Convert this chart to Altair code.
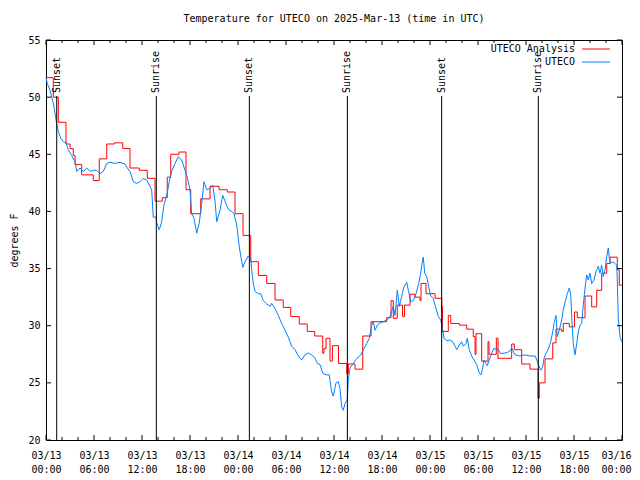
import json
import altair as alt
import pandas as pd

# ---------------- data (hours since 2025-03-13 00:00 UTC) ----------------
red_h = [0.0, 0.91, 1.54, 2.5, 3.0, 3.41, 3.63, 4.46, 5.91, 6.66, 7.59, 8.54, 9.59, 10.5,
         11.66, 12.66, 13.63, 14.54, 15.16, 15.59, 16.63, 17.5, 18.09, 19.34, 20.5, 21.63,
         22.66, 23.63, 24.63, 25.59, 26.54, 27.59, 28.63, 29.66, 30.59, 31.66, 32.66, 33.59,
         34.59, 34.75, 35.0, 35.5, 35.8, 36.56, 37.59, 37.79, 38.63, 39.59, 40.63, 42.59,
         43.13, 43.41, 43.91, 44.56, 44.81, 45.5, 46.13, 46.75, 46.88, 47.5, 48.63, 49.46,
         49.55, 50.29, 50.59, 51.66, 52.59, 53.41, 53.63, 53.75, 54.46, 55.25, 55.38, 56.29,
         56.5, 58.21, 58.54, 59.46, 60.5, 61.5, 61.66, 62.38, 63.34, 63.75, 64.46, 64.66,
         65.41, 66.06, 66.41, 67.38, 68.21, 68.84, 69.46, 70.09, 70.5, 71.41, 71.66, 72.0]
red_t = [51.7, 50.0, 47.8, 45.9, 45.5, 44.9, 44.1, 43.2, 42.7, 44.6, 45.9, 46.0, 45.5, 43.8,
         43.6, 42.9, 40.9, 41.2, 43.0, 45.0, 45.2, 41.9, 39.8, 41.1, 42.2, 41.9,
         41.7, 39.8, 37.9, 35.6, 34.4, 33.7, 32.25, 31.6, 30.8, 30.15, 29.5, 29.1,
         27.6, 28.0, 28.9, 26.9, 28.25, 26.7, 25.8, 26.65, 26.2, 29.1, 30.35, 30.7,
         32.2, 30.65, 31.8, 30.8, 31.8, 32.75, 32.5, 32.2, 33.7, 32.8, 32.4, 31.7,
         29.5, 30.9, 30.2, 30.05, 29.7, 29.05, 27.5, 29.3, 26.9, 28.6, 27.5, 28.9,
         27.15, 28.4, 27.9, 26.65, 26.2, 23.65, 25.0, 27.1, 28.5, 29.7, 29.5, 30.2,
         29.9, 31.2, 30.7, 32.6, 31.65, 33.1, 34.6, 35.45, 36.0, 34.9, 33.55, 33.55]

blue_h = [0.0, 0.16, 0.5, 0.71, 0.91, 1.13, 1.34, 1.54, 1.84, 2.16, 2.5, 2.79, 3.21, 3.63,
          3.84, 4.25, 4.66, 5.09, 5.5, 5.91, 6.34, 6.75, 7.16, 7.59, 8.0, 8.63, 9.25, 9.88,
          10.16, 10.5, 10.91, 11.34, 11.75, 12.16, 12.59, 13.0, 13.21, 13.41, 13.75, 13.84,
          14.16, 14.46, 14.75, 15.09, 15.41, 15.71, 16.13, 16.54, 16.96, 17.38, 17.66, 18.0,
          18.21, 18.5, 18.84, 19.16, 19.46, 19.75, 20.09, 20.5, 20.84, 21.13, 21.34, 21.75,
          22.09, 22.38, 22.66, 22.91, 23.21, 23.5, 23.84, 24.16, 24.59, 24.88, 25.29, 25.59,
          25.71, 25.91, 26.13, 26.54, 26.84, 27.16, 27.59, 28.0, 28.21, 28.63, 29.04, 29.46,
          29.88, 30.29, 30.71, 31.13, 31.54, 31.96, 32.38, 32.79, 33.21, 33.63, 33.91, 34.25,
          34.59, 35.0, 35.41, 35.71, 35.91, 36.25, 36.54, 36.75, 36.96, 37.16, 37.38, 37.66,
          37.79, 38.0, 38.41, 38.84, 39.16, 39.46, 39.75, 40.09, 40.41, 40.71, 40.91, 41.13,
          41.41, 41.75, 42.16, 42.59, 43.0, 43.41, 43.63, 43.91, 44.16, 44.46, 44.75, 45.09,
          45.29, 45.59, 45.91, 46.25, 46.59, 46.84, 47.0, 47.16, 47.34, 47.59, 47.84, 48.09,
          48.41, 48.75, 49.04, 49.34, 49.59, 49.75, 50.09, 50.5, 50.84, 51.13, 51.34, 51.66,
          51.96, 52.16, 52.5, 52.66, 52.91, 53.21, 53.5, 53.84, 54.16, 54.38, 54.59, 54.75,
          55.0, 55.16, 55.41, 55.71, 56.0, 56.25, 56.54, 56.84, 57.25, 57.66, 58.0, 58.21,
          58.63, 59.25, 59.88, 60.5, 61.13, 61.34, 61.54, 61.84, 62.09, 62.25, 62.5, 62.79,
          63.09, 63.34, 63.5, 63.75, 63.91, 64.16, 64.46, 64.66, 64.91, 65.16, 65.41, 65.59,
          65.75, 65.91, 66.13, 66.34, 66.54, 66.75, 66.96, 67.16, 67.38, 67.59, 67.79, 68.0,
          68.21, 68.5, 68.75, 69.04, 69.25, 69.46, 69.66, 69.88, 70.09, 70.29, 70.41, 70.59,
          70.84, 71.13, 71.34, 71.41, 71.54, 71.75, 71.96]
blue_t = [51.7, 51.2, 50.6, 50.0, 49.5, 48.6, 47.6, 47.0, 46.4, 46.1, 46.0, 45.4, 44.9, 44.35,
          43.5, 43.8, 43.5, 43.8, 43.5, 43.6, 43.6, 43.3, 43.5, 44.2, 44.3, 44.2, 44.3, 44.15,
          43.8, 43.5, 42.6, 42.45, 42.6, 42.9, 42.75, 42.2, 41.9, 39.5, 39.5, 39.0,
          38.4, 39.1, 40.6, 41.4, 42.6, 43.5, 44.2, 44.8, 44.5, 43.6, 43.0, 41.9,
          39.8, 39.4, 38.1, 39.0, 40.7, 42.6, 41.9, 42.0, 42.3, 40.9, 39.1, 40.1,
          41.4, 40.9, 40.4, 40.1, 40.0, 39.8, 38.8, 36.9, 35.1, 35.6, 36.1, 35.9,
          34.9, 33.7, 33.0, 32.8, 32.8, 32.2, 31.9, 31.7, 31.95, 31.5, 30.9, 30.2,
          29.6, 29.0, 28.2, 27.9, 27.35, 27.0, 27.45, 27.6, 27.45, 27.15, 26.7, 26.6,
          25.85, 25.7, 25.7, 24.2, 23.85, 25.0, 25.1, 24.5, 22.9, 22.6, 23.2, 23.5,
          25.25, 26.3, 26.7, 27.15, 27.3, 27.6, 28.0, 28.45, 28.9, 30.05, 30.35, 29.6,
          30.05, 30.25, 30.35, 30.5, 30.8, 31.7, 30.9, 33.1, 31.7, 32.55, 33.4, 33.8,
          33.1, 32.1, 32.2, 32.8, 33.7, 34.6, 35.45, 36.0, 34.6, 34.3, 33.4, 32.6,
          32.4, 31.5, 30.8, 30.5, 29.6, 28.9, 28.7, 28.75, 28.6, 28.2, 27.9, 28.3,
          28.6, 28.2, 28.45, 28.9, 27.9, 27.35, 27.0, 26.6, 25.85, 25.7, 26.3, 27.0,
          26.7, 26.5, 27.0, 27.6, 28.05, 27.9, 27.9, 27.55, 27.6, 27.65, 27.8, 28.05,
          27.45, 27.35, 27.45, 27.35, 27.35, 27.0, 26.6, 26.1, 26.4, 27.15, 27.6, 27.95,
          28.6, 29.5, 30.2, 30.9, 29.05, 29.6, 30.5, 31.4, 32.1, 32.8, 33.3, 32.7,
          30.35, 28.45, 27.45, 28.45, 29.5, 30.05, 30.2, 31.8, 33.3, 34.45, 34.0, 34.6,
          33.7, 34.0, 34.75, 35.2, 34.6, 35.3, 34.3, 34.9, 36.05, 36.8, 35.9, 35.45,
          35.6, 35.45, 35.3, 34.0, 30.65, 29.05, 28.6]

sun_h = [1.34, 13.79, 25.42, 37.67, 49.46, 61.54]
sun_lbl = ["Sunset", "Sunrise", "Sunset", "Sunrise", "Sunset", "Sunrise"]

x_major_h = [0, 6, 12, 18, 24, 30, 36, 42, 48, 54, 60, 66, 72]
x_minor_h = [2, 4, 8, 10, 14, 16, 20, 22, 26, 28, 32, 34, 38, 40, 44, 46, 50, 52,
             56, 58, 62, 64, 68, 70]
x_tick_dates = ["03/13", "03/13", "03/13", "03/13", "03/14", "03/14", "03/14", "03/14",
                "03/15", "03/15", "03/15", "03/15", "03/16"]
x_tick_times = ["00:00", "06:00", "12:00", "18:00", "00:00", "06:00", "12:00", "18:00",
                "00:00", "06:00", "12:00", "18:00", "00:00"]
y_ticks = [20, 25, 30, 35, 40, 45, 50, 55]

series_names = ["UTECO Analysis", "UTECO"]
series_colors = ["#ff0000", "#0080ff"]
title_text = "Temperature for UTECO on 2025-Mar-13 (time in UTC)"

# ---------------- chart ----------------
FONT = "DejaVu Sans Mono"
W, H = 576, 400

red_df = pd.DataFrame({"h": red_h, "t": red_t})
blue_df = pd.DataFrame({"h": blue_h, "t": blue_t})
sun_df = pd.DataFrame({"h": sun_h, "lbl": sun_lbl})
maj_df = pd.DataFrame({"h": x_major_h})
min_df = pd.DataFrame({"h": x_minor_h})
yt_df = pd.DataFrame({"t": y_ticks})

xs = alt.Scale(domain=[0, 72], nice=False, zero=False)
ys = alt.Scale(domain=[20, 55], nice=False, zero=False)

pairs = [[d, t] for d, t in zip(x_tick_dates, x_tick_times)]
label_expr = json.dumps(pairs) + "[round(datum.value / 6)]"

x_axis = alt.Axis(values=x_major_h, labelExpr=label_expr, grid=False, domain=False,
                  ticks=False, labelPadding=10, labelFont=FONT, labelFontSize=10,
                  labelLineHeight=14, labelColor="black", labelFlush=False,
                  labelOverlap=False, labelBound=False, title="",
                  labelOffset={"condition": {"test": "datum.value == 72", "value": -6},
                               "value": 0})
y_axis = alt.Axis(values=y_ticks, grid=False, domain=False, ticks=False, labelPadding=6,
                  labelFont=FONT, labelFontSize=10, labelColor="black", labelFlush=False,
                  labelOverlap=False, title="degrees F", titleFont=FONT, titleFontSize=10,
                  titleFontWeight="normal", titleColor="black", titleX=-32, titleY=H / 2,
                  titleAngle=270, titleAlign="center", titleBaseline="middle")

X = alt.X("h:Q", scale=xs, axis=x_axis)
Y = alt.Y("t:Q", scale=ys, axis=y_axis)

red = alt.Chart(red_df).mark_line(interpolate="step-after", color=series_colors[0],
                                  strokeWidth=1).encode(x=X, y=Y)
blue = alt.Chart(blue_df).mark_line(color=series_colors[1], strokeWidth=1).encode(x=X, y=Y)

sun_rule = alt.Chart(sun_df).mark_rule(color="black", strokeWidth=1).encode(
    x=X, y=alt.value(56), y2=alt.value(H))
sun_text = alt.Chart(sun_df).mark_text(angle=270, align="left", baseline="middle",
                                       font=FONT, fontSize=10, color="black").encode(
    x=X, y=alt.value(53), text="lbl:N")

tick_layers = [
    alt.Chart(maj_df).mark_rule(color="black").encode(x=X, y=alt.value(H), y2=alt.value(H - 5)),
    alt.Chart(maj_df).mark_rule(color="black").encode(x=X, y=alt.value(0), y2=alt.value(5)),
    alt.Chart(min_df).mark_rule(color="black").encode(x=X, y=alt.value(H), y2=alt.value(H - 3)),
    alt.Chart(min_df).mark_rule(color="black").encode(x=X, y=alt.value(0), y2=alt.value(3)),
    alt.Chart(yt_df).mark_rule(color="black").encode(y=Y, x=alt.value(0), x2=alt.value(5)),
    alt.Chart(yt_df).mark_rule(color="black").encode(y=Y, x=alt.value(W), x2=alt.value(W - 5)),
]

legend_layers = []
for i, (name, col) in enumerate(zip(series_names, series_colors)):
    yy = 9 + 13 * i
    ldf = pd.DataFrame({"lbl": [name]})
    legend_layers.append(alt.Chart(ldf).mark_text(align="right", baseline="middle",
                                                  font=FONT, fontSize=10, color="black").encode(
        x=alt.value(529), y=alt.value(yy), text="lbl:N"))
    legend_layers.append(alt.Chart(ldf).mark_rule(color=col, strokeWidth=1).encode(
        x=alt.value(536), x2=alt.value(564), y=alt.value(yy)))

chart = alt.layer(red, blue, sun_rule, sun_text, *tick_layers, *legend_layers).properties(
    width=W, height=H,
    title=alt.TitleParams(title_text, font=FONT, fontSize=10, fontWeight="normal",
                          color="black", offset=11, anchor="middle"),
    autosize=alt.AutoSizeParams(type="none"),
    padding={"left": 38, "top": 32, "right": 10, "bottom": 38},
    background="white",
).configure_view(stroke="black", strokeWidth=1)

chart.save("out.html", embed_options={"renderer": "svg", "actions": False})
